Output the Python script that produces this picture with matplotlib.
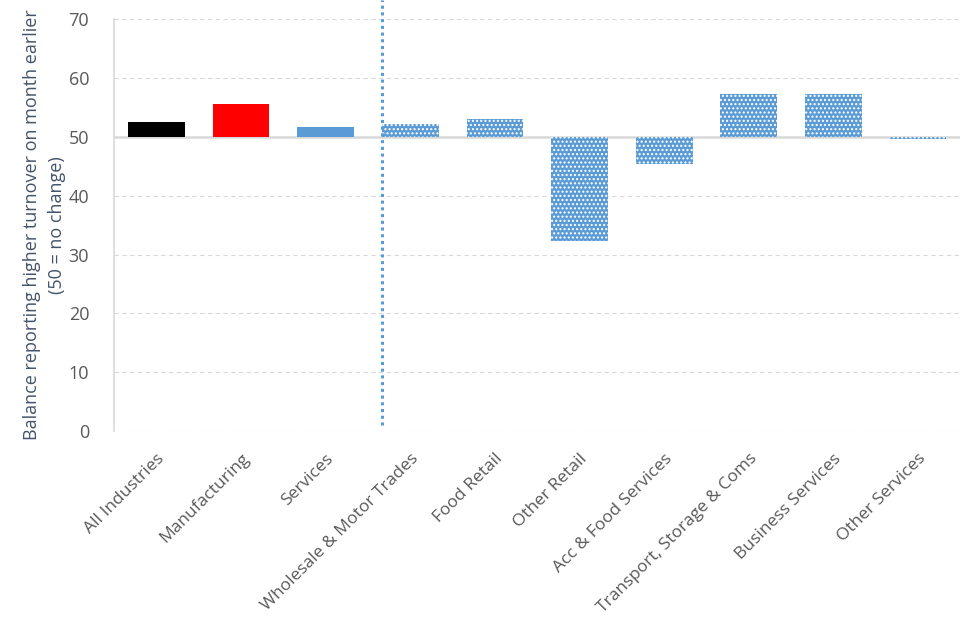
import matplotlib.pyplot as plt

categories = ['All Industries', 'Manufacturing', 'Services', 'Wholesale & Motor Trades',
              'Food Retail', 'Other Retail', 'Acc & Food Services',
              'Transport, Storage & Coms', 'Business Services', 'Other Services']
values = [52.5, 55.6, 51.6, 52.2, 53.0, 32.3, 45.3, 57.2, 57.3, 49.7]
solid_colors = ['#000000', '#ff0000', '#5b9bd5']
baseline = 50
yticks = [0, 10, 20, 30, 40, 50, 60, 70]

plt.rcParams['font.family'] = ['Open Sans', 'DejaVu Sans']
plt.rcParams['hatch.linewidth'] = 1.0

fig = plt.figure(figsize=(9.76, 6.39), dpi=100)
ax = fig.add_axes([0.117, 0.3255, 0.867, 0.6445])

blue = '#5b9bd5'
for i, v in enumerate(values):
    if i < 3:
        ax.bar(i, v - baseline, bottom=baseline, width=0.67, color=solid_colors[i], zorder=3)
    else:
        ax.bar(i, v - baseline, bottom=baseline, width=0.67, facecolor=blue,
               edgecolor='white', hatch='....', linewidth=0, zorder=3)

ax.axhline(baseline, color='#d9d9d9', lw=1.8, zorder=2)
ax.vlines(2.67, 1, 73.2, colors=blue, linestyles=(0, (1, 1.2)), lw=2.2, clip_on=False, zorder=4)

ax.set_xlim(-0.5, len(categories) - 0.5)
ax.set_ylim(0, 70)
ax.set_yticks(yticks)
ax.grid(axis='y', color='#d9d9d9', ls=(0, (4, 3)), lw=0.8, zorder=0)
for s in ['top', 'right', 'bottom']:
    ax.spines[s].set_visible(False)
ax.spines['left'].set_color('#d9d9d9')
ax.spines['left'].set_linewidth(1.2)

ax.set_xticks(range(len(categories)))
ax.set_xticklabels(categories, rotation=45, ha='right', rotation_mode='anchor',
                   fontsize=12.5, color='#595959')
ax.tick_params(axis='x', length=0, pad=14)
ax.tick_params(axis='y', length=0, labelsize=13, labelcolor='#595959', pad=18)

ax.set_ylabel('Balance reporting higher turnover on month earlier\n(50 = no change)',
              fontsize=13, color='#44546a', labelpad=2, linespacing=1.45)

fig.savefig('out.png', dpi=100)
